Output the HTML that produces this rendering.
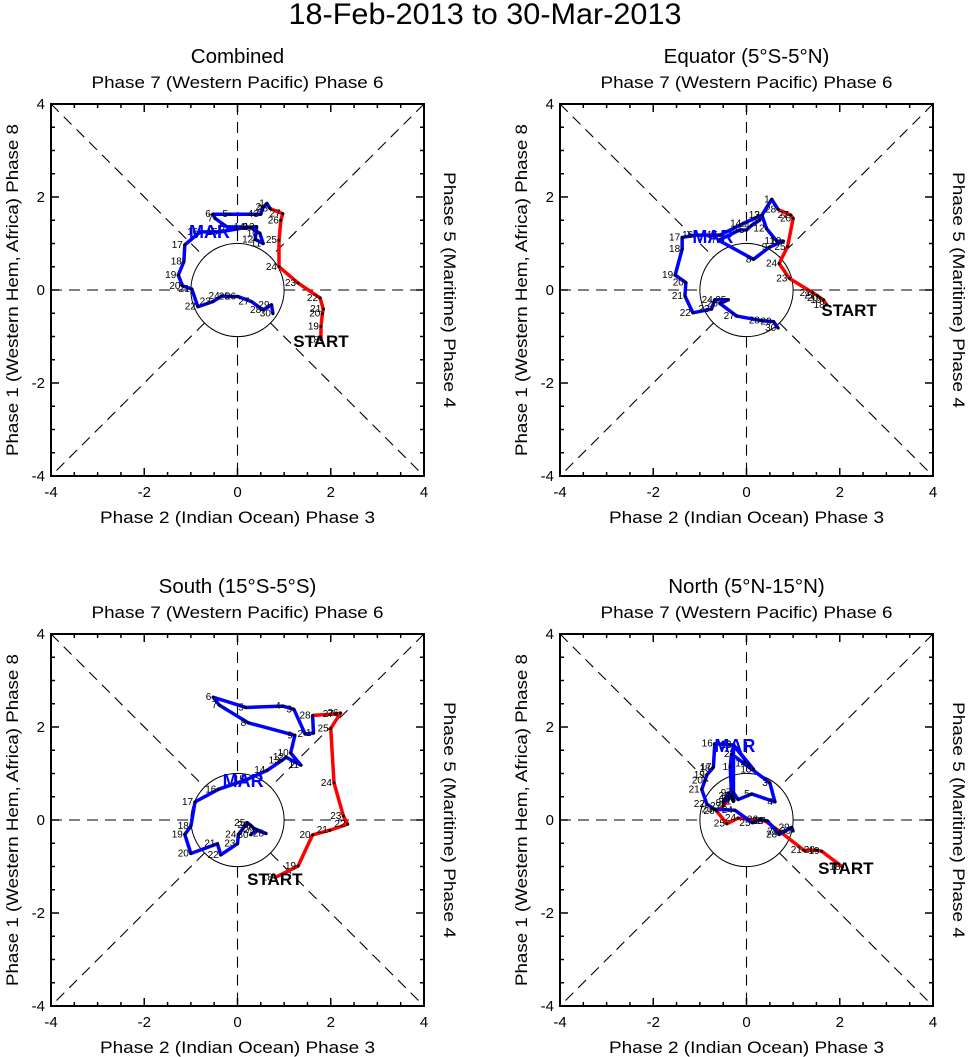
<!DOCTYPE html>
<html><head><meta charset="utf-8">
<style>
body{margin:0;background:#fff;}
svg{display:block;font-family:"Liberation Sans",sans-serif;}
</style></head>
<body>
<svg id="chart" width="971" height="1057" viewBox="0 0 971 1057" xmlns="http://www.w3.org/2000/svg">
<text x="485" y="24" font-size="30" text-anchor="middle" textLength="393" lengthAdjust="spacingAndGlyphs">18-Feb-2013 to 30-Mar-2013</text>
</svg>
<script>
// Data (RMM1, RMM2) per panel; days 18..28 Feb (red), 1..30 Mar (blue)
const febDays = [18,19,20,21,22,23,24,25,26,27,28];
const marDays = [1,2,3,4,5,6,7,8,9,10,11,12,13,14,15,16,17,18,19,20,21,22,23,24,25,26,27,28,29,30];
const panelTitles = ["Combined","Equator (5°S-5°N)","South (15°S-5°S)","North (5°N-15°N)"];
const tickValues = [-4,-2,0,2,4];

const combFebX = [1.79,1.79,1.82,1.84,1.77,1.30,0.89,0.89,0.93,0.97,0.70];
const combFebY = [-1.07,-0.79,-0.51,-0.41,-0.17,0.15,0.50,1.07,1.50,1.64,1.75];
const combMarX = [0.63,0.55,0.50,0.38,-0.16,-0.53,-0.48,-0.23,0.27,0.48,0.55,0.38,0.41,0.20,-0.38,-0.80,-1.13,-1.15,-1.27,-1.18,-0.98,-0.85,-0.53,-0.34,-0.12,0.01,0.30,0.55,0.73,0.76];
const combMarY = [1.86,1.78,1.63,1.63,1.63,1.63,1.54,1.36,1.35,1.22,1.00,1.09,1.36,1.35,1.25,1.25,0.97,0.61,0.32,0.09,0.02,-0.36,-0.25,-0.13,-0.14,-0.14,-0.25,-0.43,-0.32,-0.51];

const eqFebX = [1.72,1.65,1.58,1.52,1.42,0.92,0.70,0.88,1.00,0.95,0.68];
const eqFebY = [-0.32,-0.21,-0.17,-0.12,-0.06,0.25,0.57,0.93,1.54,1.61,1.73];
const eqMarX = [0.54,0.33,0.28,0.11,0.00,-0.15,-0.60,0.15,0.49,0.79,0.65,0.43,0.33,-0.07,-0.57,-1.10,-1.38,-1.38,-1.53,-1.30,-1.32,-1.15,-0.75,-0.68,-0.39,-0.57,-0.21,0.33,0.58,0.68];
const eqMarY = [1.95,1.61,1.50,1.39,1.29,1.29,1.07,0.66,0.92,1.05,1.05,1.32,1.61,1.43,1.18,1.18,1.13,0.88,0.32,0.16,-0.13,-0.49,-0.41,-0.21,-0.21,-0.29,-0.56,-0.66,-0.68,-0.82];

const soFebX = [0.80,1.30,1.61,1.98,2.36,2.27,2.07,2.00,2.21,2.11,1.61];
const soFebY = [-1.24,-0.99,-0.32,-0.22,-0.09,0.09,0.80,1.97,2.30,2.28,2.25];
const soMarX = [1.63,1.45,1.21,0.97,0.18,-0.52,-0.39,0.23,1.23,1.14,1.36,1.04,0.95,0.64,0.20,-0.41,-0.91,-1.00,-1.13,-1.00,-0.43,-0.36,0.00,0.02,0.21,0.28,0.35,0.61,0.41,0.28];
const soMarY = [1.87,1.85,2.38,2.45,2.42,2.64,2.47,2.09,1.82,1.44,1.18,1.35,1.28,1.07,0.87,0.66,0.39,-0.13,-0.31,-0.72,-0.51,-0.75,-0.51,-0.31,-0.06,-0.11,-0.18,-0.29,-0.22,-0.32];

const noFebX = [2.06,1.61,1.51,1.23,0.72,0.40,-0.18,-0.42,-0.64,-0.50,-0.32];
const noFebY = [-1.01,-0.67,-0.65,-0.65,-0.25,-0.02,0.04,-0.08,0.19,0.30,0.52];
const noMarX = [-0.35,-0.32,0.50,0.61,0.11,-0.18,-0.28,-0.50,-0.39,-0.30,-0.28,-0.28,0.15,0.04,-0.28,-0.68,-0.71,-0.73,-0.85,-0.89,-0.96,-0.85,-0.68,-0.25,0.13,0.29,0.45,0.70,0.97,1.00];
const noMarY = [1.14,1.42,0.80,0.39,0.56,0.44,0.59,0.37,0.58,0.45,0.40,1.62,1.09,1.21,1.61,1.64,1.14,1.11,0.97,0.85,0.66,0.34,0.23,0.21,-0.06,0.01,-0.02,-0.31,-0.16,-0.24];

const marLabelX = [-0.6,-0.72,0.12,-0.25], marLabelY = [1.25,1.14,0.84,1.59];
const startX = [1.79,2.2,0.8,2.13], startY = [-1.1,-0.43,-1.27,-1.03];

const panels = [
 {L:51,T:104,fx:combFebX,fy:combFebY,mx:combMarX,my:combMarY},
 {L:560,T:104,fx:eqFebX,fy:eqFebY,mx:eqMarX,my:eqMarY},
 {L:51,T:634,fx:soFebX,fy:soFebY,mx:soMarX,my:soMarY},
 {L:560,T:634,fx:noFebX,fy:noFebY,mx:noMarX,my:noMarY}
];
const svg=document.getElementById('chart');
const NS="http://www.w3.org/2000/svg";
function mk(tag,attrs,parent){const e=document.createElementNS(NS,tag);for(const k in attrs)e.setAttribute(k,attrs[k]);(parent||svg).appendChild(e);return e;}

panels.forEach((p,i)=>{
 const W=373,H=372;
 const sx=v=>p.L+(v+4)/8*W, sy=v=>p.T+H-(v+4)/8*H;
 const g=mk('g',{});
 
 
 const cx=sx(0), cy=sy(0), r=W/8;
 let t=mk('text',{x:cx,y:p.T-41,'font-size':20.5,'text-anchor':'middle'},g);t.textContent=panelTitles[i];
 
 
 t=mk('text',{x:cx,y:p.T-16,'font-size':17,'text-anchor':'middle',textLength:292,lengthAdjust:'spacingAndGlyphs'},g);t.textContent="Phase 7 (Western Pacific) Phase 6";
 
 
 t=mk('text',{x:cx,y:p.T+H+47,'font-size':17,'text-anchor':'middle',textLength:275,lengthAdjust:'spacingAndGlyphs'},g);t.textContent="Phase 2 (Indian Ocean) Phase 3";
 
 
 t=mk('text',{x:0,y:0,'font-size':17,'text-anchor':'middle',textLength:332,lengthAdjust:'spacingAndGlyphs',transform:`translate(${p.L-33},${cy}) rotate(-90)`},g);t.textContent="Phase 1 (Western Hem, Africa) Phase 8";
 
 
 t=mk('text',{x:0,y:0,'font-size':17,'text-anchor':'middle',textLength:236,lengthAdjust:'spacingAndGlyphs',transform:`translate(${p.L+W+20},${cy}) rotate(90)`},g);t.textContent="Phase 5 (Maritime) Phase 4";
 
 
 const d=r/Math.SQRT2;
 const segs=[[sx(-4),cy,cx-r,cy],[cx+r,cy,sx(4),cy],[cx,sy(4),cx,cy-r],[cx,cy+r,cx,sy(-4)],
  [sx(-4),sy(4),cx-d,cy-d],[cx+d,cy+d,sx(4),sy(-4)],[sx(4),sy(4),cx+d,cy-d],[cx-d,cy+d,sx(-4),sy(-4)]];
 segs.forEach(s=>{const l=mk('line',{x1:s[0],y1:s[1],x2:s[2],y2:s[3],stroke:'#000','stroke-width':1.1,'stroke-dasharray':'11,7'},g);
  
  });
 const c=mk('circle',{cx:cx,cy:cy,r:r,fill:'none',stroke:'#000','stroke-width':1},g);
 
 
 const fr=mk('rect',{x:p.L,y:p.T,width:W,height:H,fill:'none',stroke:'#000','stroke-width':2},g);
 
 
 for(let v=-4;v<=4;v+=0.5){
  const major=(v%2===0), len=major?8:4;
  mk('line',{x1:sx(v),y1:p.T+H,x2:sx(v),y2:p.T+H-len,stroke:'#000','stroke-width':1.5},g);
  mk('line',{x1:sx(v),y1:p.T,x2:sx(v),y2:p.T+len,stroke:'#000','stroke-width':1.5},g);
  mk('line',{x1:p.L,y1:sy(v),x2:p.L+len,y2:sy(v),stroke:'#000','stroke-width':1.5},g);
  mk('line',{x1:p.L+W,y1:sy(v),x2:p.L+W-len,y2:sy(v),stroke:'#000','stroke-width':1.5},g);
 }
 tickValues.forEach(v=>{
  let tt=mk('text',{x:sx(v),y:p.T+H+21,'font-size':15,'text-anchor':'middle'},g);tt.textContent=v;
  
  
  tt=mk('text',{x:p.L-6,y:sy(v)+5,'font-size':15,'text-anchor':'end'},g);tt.textContent=v;
  
  
 });
 const fp=p.fx.map((x,k)=>sx(x)+','+sy(p.fy[k])).join(' ');
 const mp=[sx(p.fx[p.fx.length-1])+','+sy(p.fy[p.fy.length-1])].concat(p.mx.map((x,k)=>sx(x)+','+sy(p.my[k]))).join(' ');
 const red=mk('polyline',{points:fp,fill:'none',stroke:'#ff0000','stroke-width':3.5,'stroke-linejoin':'round'},g);
 
 
 const blue=mk('polyline',{points:mp,fill:'none',stroke:'#0000ff','stroke-width':3.5,'stroke-linejoin':'round'},g);
 
 
 const addPts=(xs,ys,days)=>xs.forEach((x,k)=>{
  const dot=mk('circle',{cx:sx(x),cy:sy(ys[k]),r:1.5,fill:'#000'},g);
  
  
  const lb=mk('text',{x:sx(x)-2,y:sy(ys[k])+3,'font-size':10,'text-anchor':'end'},g);lb.textContent=days[k];
  
  
 });
 addPts(p.fx,p.fy,febDays);addPts(p.mx,p.my,marDays);
 let ml=mk('text',{x:sx(marLabelX[i]),y:sy(marLabelY[i])+6,'font-size':18,'font-weight':'bold',fill:'#0000ff','text-anchor':'middle'},g);ml.textContent="MAR";
 
 
 let st=mk('text',{x:sx(startX[i]),y:sy(startY[i])+6,'font-size':17,'font-weight':'bold',fill:'#000','text-anchor':'middle'},g);st.textContent="START";
 
 
});
</script>
</body></html>
